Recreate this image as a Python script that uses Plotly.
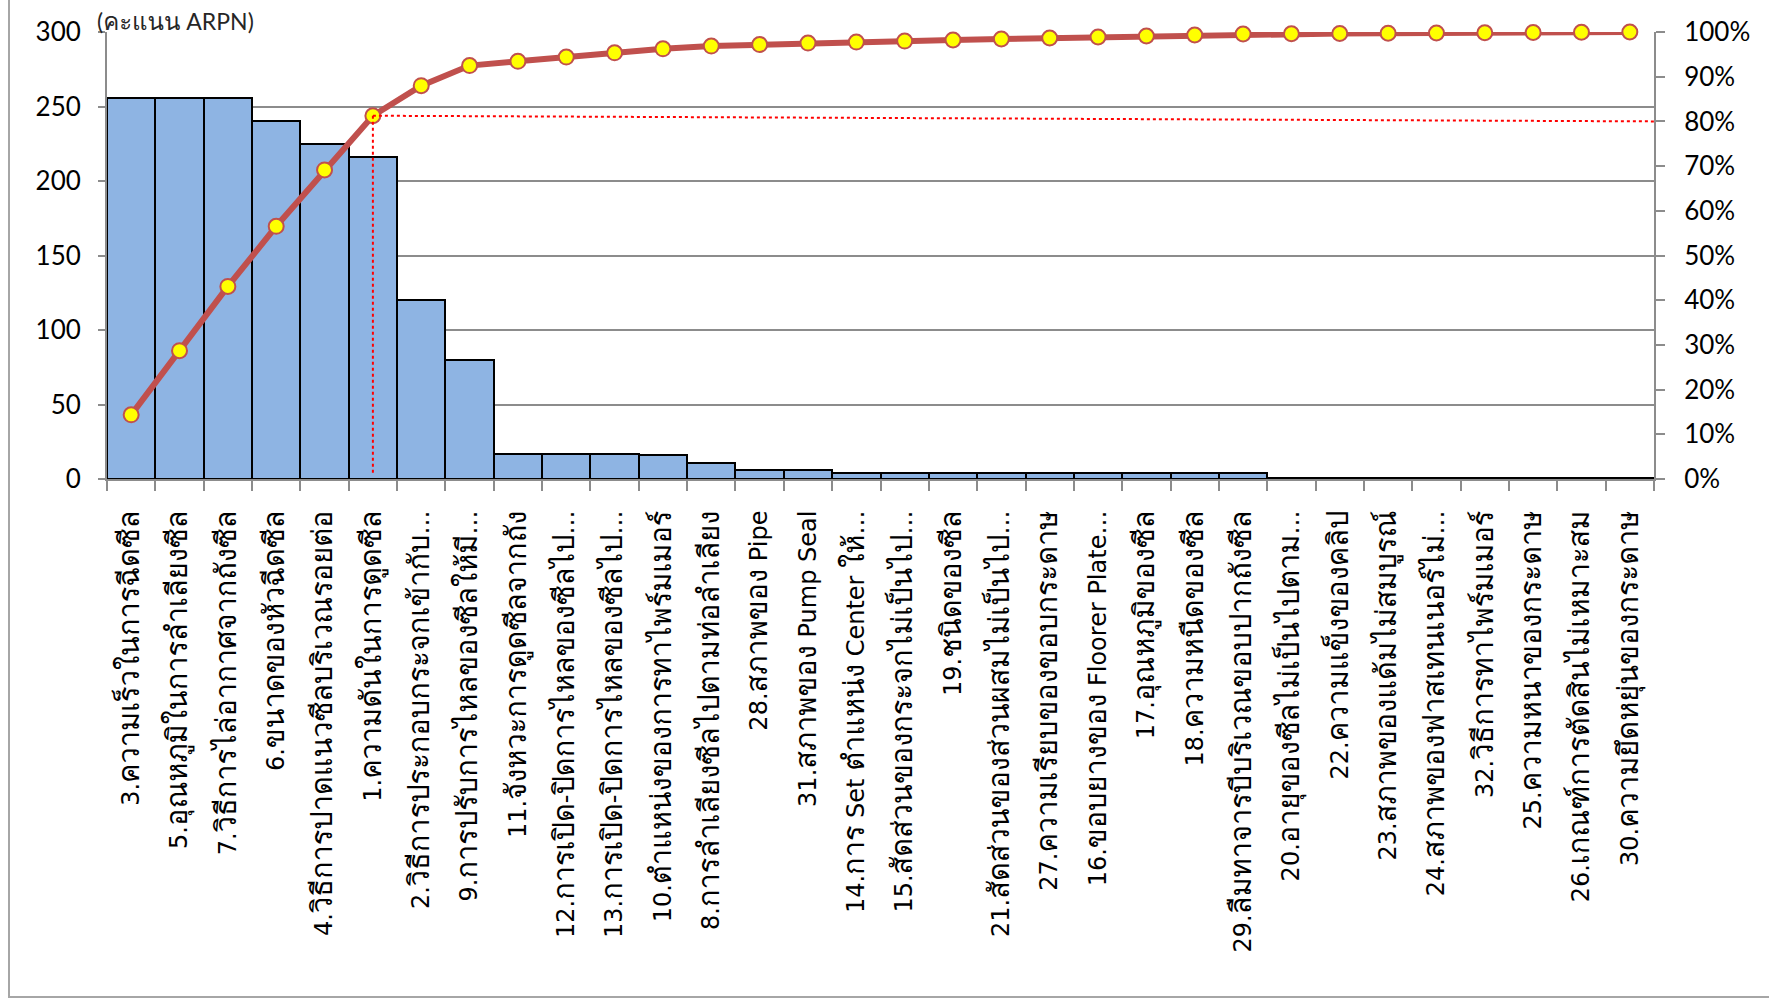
import re
import plotly.graph_objects as go
from itertools import accumulate

categories = [
    "3.ความเร็วในการฉีดซีล",
    "5.อุณหภูมิในการลำเลียงซีล",
    "7.วิธีการไล่อากาศจากถังซีล",
    "6.ขนาดของหัวฉีดซีล",
    "4.วิธีการปาดแนวซีลบริเวณรอยต่อ",
    "1.ความดันในการดูดซีล",
    "2.วิธีการประกอบกระจกเข้ากับ…",
    "9.การปรับการไหลของซีลให้มี…",
    "11.จังหวะการดูดซีลจากถัง",
    "12.การเปิด-ปิดการไหลของซีลไป…",
    "13.การเปิด-ปิดการไหลของซีลไป…",
    "10.ตำแหน่งของการทาไพร์มเมอร์",
    "8.การลำเลียงซีลไปตามท่อลำเลียง",
    "28.สภาพของ Pipe",
    "31.สภาพของ Pump Seal",
    "14.การ Set ตำแหน่ง Center ให้…",
    "15.สัดส่วนของกระจกไม่เป็นไป…",
    "19.ชนิดของซีล",
    "21.สัดส่วนของส่วนผสมไม่เป็นไป…",
    "27.ความเรียบของขอบกระดาษ",
    "16.ขอบยางของ Floorer Plate…",
    "17.อุณหภูมิของซีล",
    "18.ความหนืดของซีล",
    "29.ลืมทาจารบีบริเวณขอบปากถังซีล",
    "20.อายุของซีลไม่เป็นไปตาม…",
    "22.ความแข็งของคลิป",
    "23.สภาพของแด้มไม่สมบูรณ์",
    "24.สภาพของฟาสเทนเนอร์ไม่…",
    "32.วิธีการทาไพร์มเมอร์",
    "25.ความหนาของกระดาษ",
    "26.เกณฑ์การตัดสินไม่เหมาะสม",
    "30.ความยึดหยุ่นของกระดาษ",
]

arpn = [256, 256, 256, 240, 225, 216, 120, 80, 17, 17, 17, 16, 11, 6, 6,
        4, 4, 4, 4, 4, 4, 4, 4, 4, 1, 1, 1, 1, 1, 1, 1, 1]

left_ticks = [0, 50, 100, 150, 200, 250, 300]
right_ticks = [i / 10 for i in range(11)]
y_title = "(คะแนน ARPN)"
pareto_cut = 0.80

total = sum(arpn)
cum_pct = [c / total for c in accumulate(arpn)]
cut_idx = next(i for i, p in enumerate(cum_pct) if p >= pareto_cut)

W, H = 1769, 1001
L, R, T, B = 107, 115, 32, 522
pw, ph = W - L - R, H - T - B

LAT_FONT = "'DejaVu Sans', Loma, sans-serif"
NUM_FONT = "Lato, Carlito, sans-serif"
TITLE_FONT = "Lato, Loma, sans-serif"
GRID = "#8c8c8c"


def thai_style(text, size):
    # Thai script is set larger (as Tahoma renders it next to Latin text)
    return re.sub(r"([\u0E00-\u0E7F]+)",
                  r'<span style="font-family:Loma;font-size:%dpx">\1</span>' % size, text)


tick_text = [thai_style(c, 29) for c in categories]

fig = go.Figure()
fig.add_trace(go.Bar(
    x=categories, y=arpn,
    marker=dict(color="#8EB4E3", line=dict(color="#000000", width=2)),
    showlegend=False, hoverinfo="x+y",
))
fig.add_trace(go.Scatter(
    x=categories, y=cum_pct, yaxis="y2", mode="lines",
    line=dict(color="#C0504D", width=6), cliponaxis=True, showlegend=False,
))
fig.add_trace(go.Scatter(
    x=categories, y=cum_pct, yaxis="y2", mode="markers",
    marker=dict(size=15, color="#FFFF00", line=dict(color="#C0504D", width=2)),
    cliponaxis=False, showlegend=False,
))

shapes = [
    dict(type="line", xref="x", yref="y2", x0=cut_idx, x1=len(categories) - 0.5,
         y0=cum_pct[cut_idx], y1=pareto_cut,
         line=dict(color="#FF0000", width=2, dash="dot")),
    dict(type="line", xref="x", yref="y2", x0=cut_idx, x1=cut_idx,
         y0=cum_pct[cut_idx], y1=0.012,
         line=dict(color="#FF0000", width=2, dash="dot")),
    dict(type="rect", xref="paper", yref="paper",
         x0=(9 - L) / pw, x1=(W + 20 - L) / pw,
         y0=-(997 - (T + ph)) / ph, y1=(T + 20) / ph + 1,
         line=dict(color="#a6a6a6", width=2), fillcolor="rgba(0,0,0,0)", layer="below"),
]

fig.update_layout(
    width=W, height=H,
    margin=dict(l=L, r=R, t=T, b=B, autoexpand=False),
    paper_bgcolor="white", plot_bgcolor="white",
    bargap=0, showlegend=False,
    font=dict(family=LAT_FONT, color="#000000"),
    shapes=shapes,
    xaxis=dict(
        type="category", range=[-0.5, len(categories) - 0.5],
        tickmode="array", tickvals=categories, ticktext=tick_text,
        tickangle=-90, tickson="boundaries", ticks="outside", ticklen=10,
        tickcolor=GRID, tickwidth=2, showline=True, linecolor=GRID, linewidth=2,
        tickfont=dict(family=LAT_FONT, size=24, color="#000000"),
        ticklabelstandoff=20,
        automargin=False, showgrid=False,
    ),
    yaxis=dict(
        range=[0, 300], tickvals=left_ticks, ticks="outside", ticklen=7,
        tickcolor=GRID, tickwidth=2, showline=True, linecolor=GRID, linewidth=2,
        showgrid=True, gridcolor=GRID, gridwidth=2, zeroline=False,
        tickfont=dict(family=NUM_FONT, size=26, color="#000000"),
        ticklabelstandoff=12,
        automargin=False,
    ),
    yaxis2=dict(
        overlaying="y", side="right", range=[0, 1], tickvals=right_ticks,
        tickformat=".0%", ticks="outside", ticklen=9, tickcolor=GRID, tickwidth=2,
        showline=True, linecolor=GRID, linewidth=2, showgrid=False, zeroline=False,
        tickfont=dict(family=NUM_FONT, size=26, color="#000000"),
        ticklabelstandoff=14,
        automargin=False,
    ),
    annotations=[dict(
        text=thai_style(y_title, 24), xref="paper", yref="paper",
        x=(96 - L) / pw, y=1 + (T - 1) / ph,
        xanchor="left", yanchor="top", showarrow=False, borderpad=0,
        font=dict(family=TITLE_FONT, size=23, color="#262626"),
    )],
)

fig.write_html("out.html")
